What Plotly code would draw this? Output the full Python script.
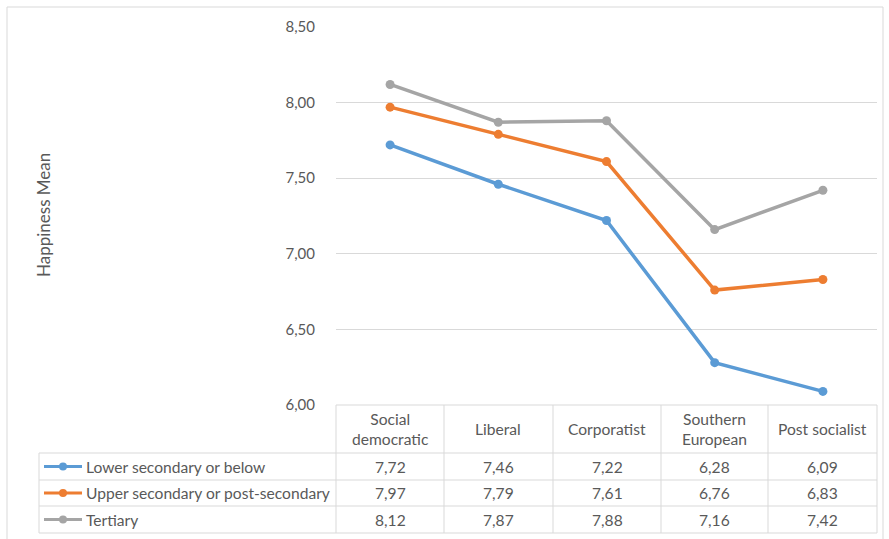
import plotly.graph_objects as go

# Regime types and happiness means by education level
regimes = ["Social<br>democratic", "Liberal", "Corporatist", "Southern<br>European", "Post socialist"]
lower_secondary = [7.72, 7.46, 7.22, 6.28, 6.09]
upper_secondary = [7.97, 7.79, 7.61, 6.76, 6.83]
tertiary = [8.12, 7.87, 7.88, 7.16, 7.42]
series_names = ["Lower secondary or below", "Upper secondary or post-secondary", "Tertiary"]
y_ticks = [6.0, 6.5, 7.0, 7.5, 8.0, 8.5]

W, H = 889, 539
FONT = "Lato"
TXT = "#595959"
GRID = "#D9D9D9"
colors = ["#5B9BD5", "#ED7D31", "#A5A5A5"]
series = [lower_secondary, upper_secondary, tertiary]
TABLE_SIZE = 15.6

# pixel -> paper helpers
def px(x):
    return x / W

def py(y):
    return 1 - y / H

plot_left, plot_right = 336, 877
plot_top, plot_bottom = 27, 405
col_edges = [336, 444, 553, 661, 768, 877]
row_edges = [405, 453, 480, 506, 533]
table_left = 39

fig = go.Figure()
xs = list(range(len(regimes)))
for name, vals, c in zip(series_names, series, colors):
    fig.add_trace(go.Scatter(
        x=xs, y=vals, name=name, mode="lines+markers",
        line=dict(color=c, width=3.5), marker=dict(color=c, size=9),
        showlegend=False,
    ))

fig.update_layout(
    width=W, height=H,
    margin=dict(l=0, r=0, t=0, b=0, pad=0),
    paper_bgcolor="white", plot_bgcolor="white",
    separators=",.",
    font=dict(family=FONT, color=TXT, size=TABLE_SIZE),
    xaxis=dict(
        domain=[px(plot_left), px(plot_right)],
        range=[-0.5, len(regimes) - 0.5],
        showgrid=False, showticklabels=False, zeroline=False, showline=False,
        automargin=False,
    ),
    yaxis=dict(
        domain=[py(plot_bottom), py(plot_top)],
        range=[6.0, 8.5],
        tickvals=y_ticks, tickformat=".2f",
        gridcolor=GRID, gridwidth=1, zeroline=False, showline=False,
        ticklabelstandoff=20, automargin=False,
        tickfont=dict(family=FONT, size=15, color=TXT),
    ),
)

shapes = []
# outer chart border
shapes.append(dict(type="rect", xref="paper", yref="paper",
                   x0=px(7), x1=px(883), y0=py(560), y1=py(7),
                   line=dict(color=GRID, width=1)))
# table grid: header row spans only the category columns
line_style = dict(color=GRID, width=1)
shapes.append(dict(type="line", xref="paper", yref="paper",
                   x0=px(plot_left), x1=px(plot_right), y0=py(row_edges[0]), y1=py(row_edges[0]), line=line_style))
for r in row_edges[1:]:
    shapes.append(dict(type="line", xref="paper", yref="paper",
                       x0=px(table_left), x1=px(plot_right), y0=py(r), y1=py(r), line=line_style))
for c in col_edges:
    shapes.append(dict(type="line", xref="paper", yref="paper",
                       x0=px(c), x1=px(c), y0=py(row_edges[0]), y1=py(row_edges[-1]), line=line_style))
shapes.append(dict(type="line", xref="paper", yref="paper",
                   x0=px(table_left), x1=px(table_left), y0=py(row_edges[1]), y1=py(row_edges[-1]), line=line_style))


def label(text, x, y, xanchor="center", size=TABLE_SIZE, angle=0):
    return dict(text=text, xref="paper", yref="paper", x=px(x), y=py(y),
                xanchor=xanchor, yanchor="middle", textangle=angle, showarrow=False,
                font=dict(family=FONT, size=size, color=TXT))


annotations = []
# y-axis title
annotations.append(label("Happiness Mean", 44, 215, size=17, angle=-90))
# header row: category names
for i, name in enumerate(regimes):
    cx = (col_edges[i] + col_edges[i + 1]) / 2
    cy = (row_edges[0] + row_edges[1]) / 2
    annotations.append(label(name, cx, cy))
# data rows with legend keys
for k, (name, vals, c) in enumerate(zip(series_names, series, colors)):
    cy = (row_edges[k + 1] + row_edges[k + 2]) / 2
    shapes.append(dict(type="line", xref="paper", yref="paper",
                       x0=px(44), x1=px(82), y0=py(cy), y1=py(cy),
                       line=dict(color=c, width=3)))
    shapes.append(dict(type="circle", xref="paper", yref="paper",
                       x0=px(59), x1=px(67), y0=py(cy + 4), y1=py(cy - 4),
                       fillcolor=c, line=dict(color=c, width=0)))
    annotations.append(label(name, 84, cy, xanchor="left"))
    for i, v in enumerate(vals):
        cx = (col_edges[i] + col_edges[i + 1]) / 2
        annotations.append(label(f"{v:.2f}".replace(".", ","), cx, cy))

fig.update_layout(shapes=shapes, annotations=annotations)
fig.write_html("out.html")
